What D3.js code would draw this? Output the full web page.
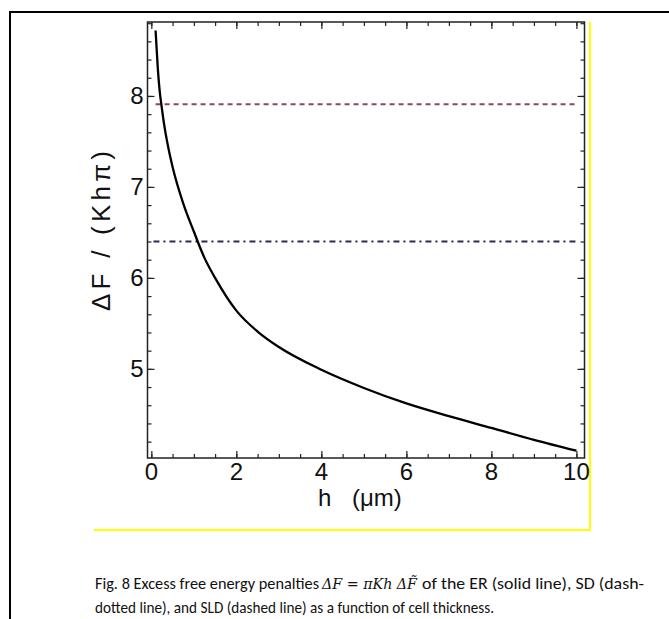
<!DOCTYPE html>
<html><head><meta charset="utf-8">
<script src="https://cdn.jsdelivr.net/npm/d3@7"></script>
<style>body{margin:0;background:#fff;} svg{display:block;}</style>
</head><body>
<svg id="c" width="669" height="619"></svg>
<script>
// ER curve (solid)
const hVals  = [0.1, 0.15, 0.2, 0.235, 0.3, 0.4, 0.5, 0.75, 1.0, 1.25, 1.5, 2.0, 2.5, 3, 4, 5, 6, 7, 8, 9, 10];
const erVals = [8.72, 8.32, 8.04, 7.91, 7.69, 7.43, 7.22, 6.82, 6.51, 6.22, 6.00, 5.64, 5.41, 5.24, 4.99, 4.79, 4.62, 4.48, 4.35, 4.22, 4.10];
// constant SD (dash-dot) and SLD (dashed)
const sdH = [0.05, 10], sdVals = [6.40, 6.40];
const sldH = [0.1, 10], sldVals = [7.91, 7.91];
const xTicks = [0, 2, 4, 6, 8, 10];
const yTicks = [5, 6, 7, 8];

const svg = d3.select("#c");
const L = 147.5, R = 584.5, T = 22, B = 458;
const x = d3.scaleLinear().domain([-0.09, 10.19]).range([L, R]);
const y = d3.scaleLinear().domain([4.02, 8.813]).range([B, T]);

// outer border (top + left)
svg.append("path").attr("d", "M10,619 V12 H669").attr("fill","none").attr("stroke","#000").attr("stroke-width",2);
// yellow lines
svg.append("path").attr("d", "M94,530 H590 V22").attr("fill","none").attr("stroke","#ffff00").attr("stroke-width",2);

const g = svg.append("g");
const minorX = d3.range(0, 10.01, 0.5);
const minorY = d3.range(4.2, 8.81, 0.2);

function ticks(axisGen, tr, vals, len){
  g.append("g").attr("transform", tr)
   .call(axisGen.tickValues(vals).tickSize(len).tickFormat(""))
   .call(s => s.select(".domain").remove())
   .call(s => s.selectAll("line").attr("stroke","#222").attr("stroke-width",1.2));
}
ticks(d3.axisTop(x), `translate(0,${B})`, minorX, 4);
ticks(d3.axisTop(x), `translate(0,${B})`, xTicks, 7);
ticks(d3.axisBottom(x), `translate(0,${T})`, minorX, 4);
ticks(d3.axisBottom(x), `translate(0,${T})`, xTicks, 7);
ticks(d3.axisRight(y), `translate(${L},0)`, minorY, 4);
ticks(d3.axisRight(y), `translate(${L},0)`, yTicks, 7);
ticks(d3.axisLeft(y), `translate(${R},0)`, minorY, 4);
ticks(d3.axisLeft(y), `translate(${R},0)`, yTicks, 7);

g.append("rect").attr("x",L).attr("y",T).attr("width",R-L).attr("height",B-T)
 .attr("fill","none").attr("stroke","#222").attr("stroke-width",1.5);

const font = "Liberation Sans, Arial, sans-serif";
g.selectAll(".xl").data(xTicks).enter().append("text")
 .attr("x", d => x(d)).attr("y", B + 22).attr("text-anchor","middle")
 .attr("font-family", font).attr("font-size", 24).attr("fill","#111").text(d => d);
g.selectAll(".yl").data(yTicks).enter().append("text")
 .attr("x", L - 4).attr("y", d => y(d) + 8).attr("text-anchor","end")
 .attr("font-family", font).attr("font-size", 24).attr("fill","#111").text(d => d);

g.append("text").attr("x", 318).attr("y", 506)
 .attr("font-family", font).attr("font-size", 24).attr("fill","#111").text("h");
g.append("text").attr("x", 352).attr("y", 506)
 .attr("font-family", font).attr("font-size", 24).attr("fill","#111").text("(\u03bcm)");
g.append("text").attr("transform","translate(110,311) rotate(-90)")
 .attr("textLength", 160).attr("lengthAdjust","spacing")
 .attr("font-family", font).attr("font-size", 26).attr("fill","#111").text("\u0394F / (Kh\u03c0)");

const line = d3.line().x(d => x(d[0])).y(d => y(d[1]));
g.append("path").datum(d3.zip(sldH, sldVals)).attr("d", line)
 .attr("fill","none").attr("stroke","#8a4a5c").attr("stroke-width",2).attr("stroke-dasharray","5,4");
g.append("path").datum(d3.zip(sdH, sdVals)).attr("d", line)
 .attr("fill","none").attr("stroke","#2a2a4a").attr("stroke-width",2).attr("stroke-dasharray","6,4,2,4");
g.append("path").datum(d3.zip(hVals, erVals)).attr("d", d3.line().curve(d3.curveMonotoneX).x(d => x(d[0])).y(d => y(d[1])))
 .attr("fill","none").attr("stroke","#000").attr("stroke-width",2.3);

// caption
const cf = "Carlito, Lato, 'Open Sans', sans-serif";
const cap = svg.append("g").attr("font-family", cf).attr("font-size",15.5).attr("fill","#111");
cap.append("text").attr("x",95).attr("y",589).attr("textLength",224).attr("lengthAdjust","spacingAndGlyphs")
 .text("Fig. 8 Excess free energy penalties");
cap.append("text").attr("x",322).attr("y",589).attr("textLength",95).attr("lengthAdjust","spacingAndGlyphs")
 .attr("font-family","DejaVu Serif, serif").attr("font-style","italic").attr("font-size",15)
 .text("\u0394F = \u03c0Kh \u0394F\u0303");
cap.append("text").attr("x",422).attr("y",589).attr("textLength",222).attr("lengthAdjust","spacingAndGlyphs")
 .text("of the ER (solid line), SD (dash-");
cap.append("text").attr("x",95).attr("y",613).attr("textLength",399).attr("lengthAdjust","spacingAndGlyphs")
 .text("dotted line), and SLD (dashed line) as a function of cell thickness.");
</script>
</body></html>
